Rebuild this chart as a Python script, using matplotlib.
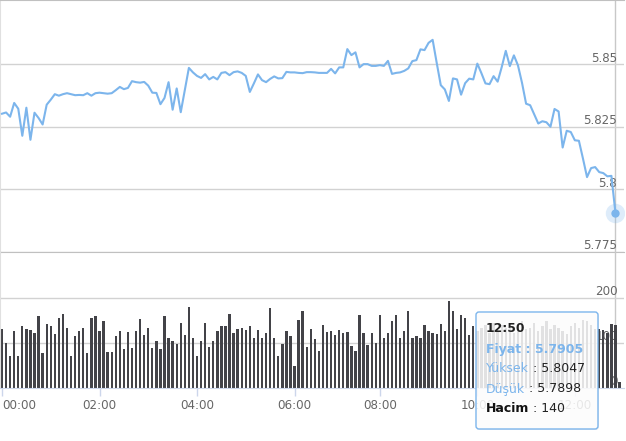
import matplotlib
matplotlib.use("Agg")
import matplotlib.pyplot as plt
import matplotlib.transforms as mtransforms
from matplotlib.patches import FancyBboxPatch
import numpy as np

# ---------------- data ----------------
price = [
    5.8302, 5.8307, 5.8290, 5.8345, 5.8322, 5.8214, 5.8326, 5.8198, 5.8306, 5.8285,
    5.8259, 5.8338, 5.8358, 5.8380, 5.8374, 5.8380, 5.8384, 5.8380, 5.8376, 5.8377,
    5.8376, 5.8384, 5.8374, 5.8384, 5.8386, 5.8384, 5.8382, 5.8384, 5.8396, 5.8409,
    5.8400, 5.8405, 5.8432, 5.8428, 5.8426, 5.8429, 5.8414, 5.8386, 5.8385, 5.8340,
    5.8365, 5.8428, 5.8318, 5.8403, 5.8308, 5.8396, 5.8485, 5.8467, 5.8453, 5.8445,
    5.8460, 5.8439, 5.8449, 5.8439, 5.8465, 5.8468, 5.8456, 5.8468, 5.8471, 5.8465,
    5.8453, 5.8389, 5.8423, 5.8459, 5.8436, 5.8428, 5.8441, 5.8451, 5.8443, 5.8444,
    5.8469, 5.8467, 5.8467, 5.8465, 5.8464, 5.8468, 5.8468, 5.8467, 5.8465, 5.8465,
    5.8465, 5.8481, 5.8463, 5.8487, 5.8487, 5.8560, 5.8536, 5.8547, 5.8487, 5.8500,
    5.8500, 5.8493, 5.8493, 5.8496, 5.8493, 5.8513, 5.8461, 5.8465, 5.8467, 5.8473,
    5.8483, 5.8512, 5.8516, 5.8559, 5.8556, 5.8585, 5.8597, 5.8505, 5.8416, 5.8399,
    5.8353, 5.8443, 5.8439, 5.8378, 5.8424, 5.8442, 5.8439, 5.8502, 5.8464, 5.8423,
    5.8420, 5.8452, 5.8430, 5.8488, 5.8553, 5.8492, 5.8535, 5.8495, 5.8425, 5.8342,
    5.8336, 5.8300, 5.8263, 5.8272, 5.8268, 5.8250, 5.8321, 5.8311, 5.8167, 5.8234,
    5.8229, 5.8196, 5.8194, 5.8123, 5.8049, 5.8085, 5.8089, 5.8069, 5.8065, 5.8052,
    5.8054, 5.7905,
]

volume = [
    132, 100, 72, 127, 72, 137, 131, 129, 122, 159, 77, 143, 137, 120, 156, 165, 134, 70, 115, 127,
    134, 77, 156, 159, 127, 149, 79, 79, 115, 127, 86, 125, 88, 127, 153, 117, 134, 88, 105, 86,
    159, 110, 105, 98, 144, 117, 180, 110, 72, 105, 144, 91, 105, 127, 137, 137, 165, 122, 132, 134,
    129, 137, 112, 129, 110, 122, 177, 112, 70, 98, 127, 115, 48, 151, 170, 91, 132, 108,
    83, 139, 125, 127, 117, 129, 122, 125, 93, 83, 163, 122, 96, 122, 101, 163, 110, 122, 149, 163,
    110, 127, 170, 110, 115, 110, 139, 127, 122, 120, 143, 127, 194, 170, 132, 163, 156, 117,
    137, 127, 134, 141, 123, 145, 127, 141, 134, 145, 123, 138, 149, 130, 134, 145, 127, 138, 149, 130,
    141, 134, 127, 120, 138, 145, 134, 152, 149, 141, 130, 130, 128, 123, 142, 140, 14,
]

missing_times = ["06:40", "07:05", "07:30"]
all_slots = [f"{h:02d}:{m:02d}" for h in range(13) for m in range(0, 60, 5)]
times = [t for t in all_slots if t not in missing_times]

tick_labels = ["00:00", "02:00", "04:00", "06:00", "08:00", "10:00", "12:00"]
price_ticks = [5.775, 5.8, 5.825, 5.85]
price_tick_labels = ["5.775", "5.8", "5.825", "5.85"]
vol_ticks = [0, 100, 200]
vol_tick_labels = ["0", "100", "200"]

tooltip_time = "12:50"
tooltip_rows = [("Fiyat", "5.7905"), ("Yüksek", "5.8047"), ("Düşük", "5.7898"), ("Hacim", "140")]

# ---------------- figure ----------------
W, H = 626, 441
fig = plt.figure(figsize=(W / 100, H / 100), dpi=100)
plt.rcParams["font.family"] = ["DejaVu Sans"]

def fy(py):
    return 1 - py / H

RIGHT_PX = 624
ax1 = fig.add_axes([0, fy(252), RIGHT_PX / W, 252 / H])
ax2 = fig.add_axes([0, fy(388), RIGHT_PX / W, 136 / H])

BLUE = "#7cb5ec"
GRID = "#d2d2d2"
LABEL = "#666666"

xp = np.arange(len(price))
xv = np.arange(len(volume))
hover = times.index(tooltip_time)

xlim = (-0.492, 153.1)

# price panel
ax1.set_xlim(*xlim)
ax1.set_ylim(5.775, 5.8756)
ax1.set_yticks(price_ticks)
ax1.yaxis.grid(True, color=GRID, lw=1)
ax1.set_xticks([])
ax1.tick_params(axis="y", length=0, labelleft=False)
ax1.axvline(hover, color="#c8c8c8", lw=1, zorder=1)
ax1.plot(xp, price, color=BLUE, lw=1.5, solid_joinstyle="round", zorder=3)
ax1.plot(xp[hover], price[hover], "o", ms=14, color=BLUE, alpha=0.25, mec="none", zorder=4)
ax1.plot(xp[hover], price[hover], "o", ms=6, color=BLUE, mec="none", zorder=5)

tr1 = mtransforms.offset_copy(
    mtransforms.blended_transform_factory(ax1.transAxes, ax1.transData), fig=fig, y=2.5, units="dots")
for v, s in zip(price_ticks, price_tick_labels):
    ax1.text(617 / RIGHT_PX, v, s, transform=tr1, ha="right", va="baseline",
             fontsize=8.6, color=LABEL, zorder=2)

# volume panel
ax2.set_xlim(*xlim)
ax2.set_ylim(0, 302)
ax2.set_yticks([100, 200])
ax2.yaxis.grid(True, color=GRID, lw=1)
ax2.tick_params(axis="y", length=0, labelleft=False)
ax2.axvline(hover, color="#c8c8c8", lw=1, zorder=0.8)
ax2.bar(xv, volume, width=0.58, color="#434348", linewidth=0, zorder=2)

tr2 = mtransforms.offset_copy(
    mtransforms.blended_transform_factory(ax2.transAxes, ax2.transData), fig=fig, y=3, units="dots")
for v, s in zip(vol_ticks, vol_tick_labels):
    ax2.text(618 / RIGHT_PX, v, s, transform=tr2, ha="right", va="baseline",
             fontsize=8.6, color=LABEL, zorder=1)

tick_pos = [times.index(t) for t in tick_labels]
ax2.set_xticks(tick_pos)
ax2.set_xticklabels(tick_labels)
ax2.tick_params(axis="x", direction="out", length=5.8, width=1, color="#ccd6eb",
                labelcolor=LABEL, labelsize=8.6, pad=2)
ax2.get_xticklabels()[0].set_ha("left")

for ax in (ax1, ax2):
    ax.set_facecolor("none")
    ax.spines["right"].set_visible(False)
    ax.spines["left"].set_color("#e0e0e0")
ax1.spines["top"].set_color("#c0c0c0")
ax1.spines["bottom"].set_color("#c0c0c0")
ax2.spines["top"].set_visible(False)
ax2.spines["bottom"].set_color("#ccd6eb")

# ---------------- tooltip overlay (pixel coordinates) ----------------
ov = fig.add_axes([0, 0, 1, 1], zorder=10)
ov.set_xlim(0, W)
ov.set_ylim(H, 0)
ov.axis("off")
ov.patch.set_alpha(0)

bx, by, bw, bh = 476, 312, 122, 117
shadow = FancyBboxPatch((bx + 1, by + 1), bw, bh, boxstyle="round,pad=0,rounding_size=3",
                        fc=(0, 0, 0, 0.06), ec="none")
ov.add_patch(shadow)
box = FancyBboxPatch((bx, by), bw, bh, boxstyle="round,pad=0,rounding_size=3",
                     fc=(1, 1, 1, 0.85), ec=BLUE, lw=1)
ov.add_patch(box)

TX = 486
ov.text(TX, 329, tooltip_time, fontsize=8.8, fontweight="bold", color="#222222",
        ha="left", va="center")
fig.canvas.draw()
renderer = fig.canvas.get_renderer()

def pieces(y, parts):
    x = TX
    for s, color, weight in parts:
        t = ov.text(x, y, s, fontsize=9, fontweight=weight, color=color, ha="left", va="center")
        ext = t.get_window_extent(renderer=renderer)
        x += ext.width

ys = [349, 369, 389, 409]
(n0, v0), (n1, v1), (n2, v2), (n3, v3) = tooltip_rows
pieces(ys[0], [(n0 + " : " + v0, BLUE, "bold")])
pieces(ys[1], [(n1, BLUE, "normal"), (" : " + v1, "#222222", "normal")])
pieces(ys[2], [(n2, BLUE, "normal"), (" : " + v2, "#222222", "normal")])
pieces(ys[3], [(n3, "#111111", "bold"), (" : " + v3, "#222222", "normal")])

fig.savefig("out.png", dpi=100)
